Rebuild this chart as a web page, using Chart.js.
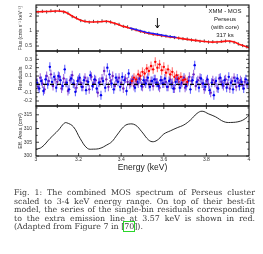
<!DOCTYPE html>
<html><head><meta charset="utf-8">
<script src="https://cdn.jsdelivr.net/npm/chart.js@4.4.0/dist/chart.umd.min.js"></script>
<style>
html,body{margin:0;padding:0;background:#fff;width:263px;height:254px;overflow:hidden;position:relative}
canvas{position:absolute;left:0}
.ann{position:absolute;left:195px;width:60px;text-align:center;font-family:'Liberation Sans',Arial,sans-serif;font-size:6px;color:#222;line-height:8px}
#cap{position:absolute;left:14px;top:189px;width:241px;font-family:'DejaVu Serif',serif;font-size:7.9px;line-height:8.6px;color:#3a3a3a}
#cap div{text-align:justify;text-align-last:justify;white-space:nowrap}
#cap div.last{text-align-last:left}
.ref{outline:1px solid #2bd62b;outline-offset:0}
</style></head><body>
<canvas id="c1" width="263" height="52" style="top:0;width:263px;height:52px"></canvas>
<canvas id="c2" width="263" height="57" style="top:50px;width:263px;height:57px"></canvas>
<canvas id="c3" width="263" height="71" style="top:105px;width:263px;height:71px"></canvas>
<div class="ann" style="top:7px">XMM - MOS<br>Perseus<br>(with core)<br>317 ks</div>
<div id="cap">
<div>Fig. 1: The combined MOS spectrum of Perseus cluster</div>
<div>scaled to 3-4 keV energy range. On top of their best-fit</div>
<div>model, the series of the single-bin residuals corresponding</div>
<div>to the extra emission line at 3.57 keV is shown in red.</div>
<div class="last">(Adapted from Figure 7 in [<span class="ref">70</span>]).</div>
</div>
<script>
// ---------------- data ----------------
const lineEnergy = 3.57;
const xTickValues = [3, 3.2, 3.4, 3.6, 3.8, 4];
const xTickLabels = ['3', '3.2', '3.4', '3.6', '3.8', '4'];
const xFrameTicks = [3.1, 3.2, 3.3, 3.4, 3.5, 3.6, 3.7, 3.8, 3.9];

// top panel: flux
const fluxTickValues = [0.5, 1, 2];
const fluxTickLabels = ['0.5', '1', '2'];
const modelE    = [3.00,3.03,3.06,3.10,3.13,3.15,3.17,3.19,3.21,3.24,3.27,3.30,3.33,3.36,3.38,3.40,3.43,3.46,3.48,3.52,3.57,3.62,3.66,3.71,3.77,3.82,3.87,3.90,3.93,3.96,4.00];
const modelFlux = [2.42,2.45,2.47,2.52,2.45,2.25,2.00,1.80,1.64,1.53,1.52,1.53,1.57,1.47,1.38,1.28,1.18,1.07,1.01,0.91,0.83,0.77,0.73,0.68,0.63,0.60,0.61,0.63,0.60,0.53,0.46];
const lineModelE    = [3.44,3.48,3.52,3.57,3.62,3.66];
const lineModelFlux = [1.15,1.04,0.94,0.86,0.79,0.745];
const dataE    = [3.01,3.03,3.05,3.07,3.09,3.11,3.13,3.15,3.17,3.19,3.21,3.23,3.25,3.27,3.29,3.31,3.33,3.35,3.37,3.39,3.41,3.43,3.45,3.47,3.49,3.51,3.53,3.55,3.57,3.59,3.61,3.63,3.65,3.67,3.69,3.71,3.73,3.75,3.77,3.79,3.81,3.83,3.85,3.87,3.89,3.91,3.93,3.95,3.97,3.99];
const dataFlux = [2.40,2.50,2.41,2.55,2.47,2.58,2.40,2.28,1.95,1.84,1.62,1.58,1.50,1.56,1.51,1.60,1.54,1.52,1.40,1.36,1.24,1.21,1.09,1.06,0.99,0.94,0.91,0.86,0.85,0.81,0.79,0.77,0.74,0.72,0.70,0.69,0.66,0.65,0.62,0.63,0.60,0.61,0.59,0.62,0.63,0.61,0.59,0.55,0.51,0.48];

// middle panel: residuals
const resTickValues = [-0.2, -0.1, 0, 0.1, 0.2, 0.3];
const resTickLabels = ['-0.2', '-0.1', '0', '0.1', '0.2', '0.3'];
const blueRes = [0.02,-0.05,0.04,-0.08,0.06,0.00,0.21,0.03,0.09,-0.04,
  0.10,0.05,-0.02,0.18,0.02,-0.06,0.07,0.01,-0.09,0.04,
  0.08,-0.03,0.05,-0.07,0.03,0.11,-0.02,0.06,-0.05,0.02,
  -0.13,0.04,-0.04,0.20,0.12,0.01,-0.06,0.08,0.03,-0.03,
  0.09,0.05,-0.08,0.13,0.02,0.06,-0.04,0.03,0.07,-0.02,
  0.05,0.01,0.08,-0.03,0.04,0.06,0.02,-0.02,0.05,0.01,
  0.07,-0.03,0.04,0.00,-0.05,0.03,0.06,-0.04,0.02,0.08,
  -0.02,0.04,-0.06,0.05,0.23,0.03,-0.04,0.07,0.01,-0.03,
  0.06,-0.07,0.02,-0.13,0.04,-0.05,0.08,0.00,0.05,-0.04,
  0.09,0.02,-0.06,0.04,0.07,-0.02,0.03,-0.05,0.06,0.01];
const purpleRes = [0.05,-0.03,0.08,0.01,-0.06,0.10,0.04,0.12,-0.02,0.06,
  0.03,0.09,-0.05,0.07,0.02,-0.08,0.05,0.11,0.00,-0.04,
  0.06,0.02,-0.03,0.08,0.04,-0.06,0.09,0.01,0.05,-0.10,
  0.03,0.07,0.16,0.06,-0.03,0.04,0.10,-0.02,0.05,0.08,
  0.02,-0.05,0.07,0.03,0.00,0.05,-0.02,0.04,0.01,0.06,
  -0.03,0.03,0.05,0.00,0.04,-0.02,0.06,0.02,-0.04,0.05,
  0.01,0.03,-0.03,0.06,0.02,-0.05,0.07,0.03,0.00,0.05,
  -0.04,0.02,0.09,0.04,0.12,-0.02,0.05,0.08,0.01,-0.06,
  0.04,0.00,-0.10,0.05,0.02,-0.04,0.07,0.03,-0.02,0.06,
  0.01,-0.05,0.04,0.08,-0.03,0.02,0.05,-0.01,0.03,0.00];
const redE   = [3.45,3.46,3.47,3.48,3.49,3.50,3.51,3.52,3.53,3.54,3.55,3.56,3.57,3.58,3.59,3.60,3.61,3.62,3.63,3.64,3.65,3.66,3.67,3.68,3.69,3.70,3.71];
const redRes = [0.04,0.08,0.06,0.12,0.10,0.15,0.13,0.19,0.16,0.22,0.18,0.27,0.20,0.24,0.17,0.21,0.14,0.18,0.12,0.15,0.09,0.11,0.07,0.09,0.05,0.06,0.03];

// bottom panel: effective area
const areaTickValues = [300, 305, 310, 315];
const areaTickLabels = ['300', '305', '310', '315'];
const areaE = [3.000,3.027,3.066,3.105,3.132,3.144,3.176,3.207,3.241,3.270,3.301,3.332,3.356,3.380,3.411,3.434,3.466,3.497,3.529,3.551,3.575,3.600,3.632,3.663,3.694,3.725,3.756,3.780,3.811,3.842,3.882,3.913,3.960,3.991,4.000];
const areaVal = [302.4,303.2,306.4,309.4,311.9,312.1,310.6,306.4,302.8,302.5,302.8,304.0,305.2,307.6,310.6,311.6,311.3,308.8,305.8,305.2,306.1,308.0,309.2,310.3,311.3,313.1,315.5,316.3,315.3,314.3,312.5,312.2,312.7,314.1,314.9];

// --------------- helpers ---------------
const resBinE = blueRes.map((_, i) => 3.005 + i * 0.01);
const purpleBinE = purpleRes.map((_, i) => 3.0 + i * 0.01);
const pts = (xs, ys) => xs.map((x, i) => ({x, y: ys[i]}));

Chart.defaults.font.family = "'Liberation Sans', Arial, sans-serif";
Chart.defaults.font.size = 5;
Chart.defaults.color = '#333';
Chart.defaults.animation = false;
Chart.defaults.responsive = false;
Chart.defaults.devicePixelRatio = 1;
Chart.defaults.plugins.legend.display = false;
Chart.defaults.plugins.tooltip.enabled = false;

const framePlugin = {
  id: 'frame',
  afterDatasetsDraw(chart, args, o) {
    const {ctx, chartArea: a, scales} = chart;
    const xs = scales.x, ys = scales.y;
    ctx.save();
    ctx.strokeStyle = '#111';
    ctx.lineWidth = 1.1;
    ctx.strokeRect(a.left, a.top, a.right - a.left, a.bottom - a.top);
    ctx.lineWidth = 0.8;
    ctx.beginPath();
    xFrameTicks.forEach((v, i) => {
      const p = xs.getPixelForValue(v);
      const L = (Math.round(v * 10) % 2 === 0) ? 3 : 2;
      ctx.moveTo(p, a.top); ctx.lineTo(p, a.top + L);
      ctx.moveTo(p, a.bottom); ctx.lineTo(p, a.bottom - L);
    });
    (o.yMajor || []).forEach(v => {
      const p = ys.getPixelForValue(v);
      ctx.moveTo(a.left, p); ctx.lineTo(a.left + 3, p);
      ctx.moveTo(a.right, p); ctx.lineTo(a.right - 3, p);
    });
    (o.yMinor || []).forEach(v => {
      const p = ys.getPixelForValue(v);
      ctx.moveTo(a.left, p); ctx.lineTo(a.left + 1.6, p);
      ctx.moveTo(a.right, p); ctx.lineTo(a.right - 1.6, p);
    });
    ctx.stroke();
    if (o.arrow) {
      const px = xs.getPixelForValue(lineEnergy);
      const y0 = a.top + 13, y1 = a.top + 23;
      ctx.strokeStyle = '#000'; ctx.lineWidth = 0.9;
      ctx.beginPath(); ctx.moveTo(px, y0); ctx.lineTo(px, y1); ctx.stroke();
      ctx.beginPath(); ctx.moveTo(px - 2, y1 - 3); ctx.lineTo(px, y1); ctx.lineTo(px + 2, y1 - 3); ctx.stroke();
    }
    ctx.restore();
  }
};

function yAxis(type, min, max, vals, labels, title, titleSize) {
  return {
    type, min, max, position: 'left',
    grid: {display: false, drawTicks: false}, border: {display: false},
    afterBuildTicks: s => { s.ticks = vals.map(v => ({value: v})); },
    afterFit: s => { s.width = 20; s.paddingTop = 0; s.paddingBottom = 0; },
    ticks: {padding: 4, font: {size: 5}, color: '#333', callback: (v, i) => labels[i]},
    title: {display: true, text: title, font: {size: titleSize}, color: '#333', padding: {top: 1.5, bottom: 0}}
  };
}
const xHidden = {type: 'linear', min: 3, max: 4, display: false};

// --------------- chart 1: flux ---------------
new Chart(document.getElementById('c1'), {
  type: 'scatter',
  data: {datasets: [
    {data: pts(lineModelE, lineModelFlux), showLine: true, borderColor: '#1a1aff', borderWidth: 1.4, pointRadius: 0, order: 0},
    {data: pts(modelE, modelFlux), showLine: true, borderColor: '#ff1010', borderWidth: 1.6, pointRadius: 0, tension: 0.3, order: 1},
    {data: pts(dataE, dataFlux), pointStyle: 'line', rotation: 90, radius: 1.6, borderColor: '#222', borderWidth: 0.8, order: 2}
  ]},
  options: {
    layout: {autoPadding: false, padding: {top: 5, right: 14, left: 16, bottom: 1}},
    scales: {x: xHidden, y: yAxis('logarithmic', 0.397, 3.33, fluxTickValues, fluxTickLabels, 'Flux (cnts s\u207B\u00B9 keV\u207B\u00B9)', 5)},
    plugins: {frame: {yMajor: fluxTickValues, yMinor: [0.6, 0.7, 0.8, 0.9, 1.5, 3], arrow: true}}
  },
  plugins: [framePlugin]
});

// --------------- chart 2: residuals ---------------
new Chart(document.getElementById('c2'), {
  type: 'scatter',
  data: {datasets: [
    {data: [{x: 3, y: 0}, {x: 4, y: 0}], showLine: true, borderColor: '#000', borderWidth: 1.3, borderDash: [4, 3], pointRadius: 0, order: 0},
    {data: pts(redE, redRes), pointStyle: 'circle', radius: 1.2, backgroundColor: '#ff0000', borderWidth: 0, order: 1},
    {data: pts(redE, redRes), pointStyle: 'line', rotation: 90, radius: 4.5, borderColor: 'rgba(255,70,70,0.7)', borderWidth: 1.2, order: 2},
    {data: pts(resBinE, blueRes), pointStyle: 'circle', radius: 1.2, backgroundColor: '#0000ee', borderWidth: 0, order: 3},
    {data: pts(resBinE, blueRes), pointStyle: 'line', rotation: 90, radius: 4.5, borderColor: 'rgba(50,50,255,0.75)', borderWidth: 1.1, order: 4},
    {data: pts(purpleBinE, purpleRes), pointStyle: 'circle', radius: 1.2, backgroundColor: '#6a1fc0', borderWidth: 0, order: 5},
    {data: pts(purpleBinE, purpleRes), pointStyle: 'line', rotation: 90, radius: 4.5, borderColor: 'rgba(130,60,210,0.75)', borderWidth: 1.1, order: 6}
  ]},
  options: {
    layout: {autoPadding: false, padding: {top: 1, right: 14, left: 16, bottom: 1}},
    scales: {x: xHidden, y: yAxis('linear', -0.26, 0.4, resTickValues, resTickLabels, 'Residuals', 5.5)},
    plugins: {frame: {yMajor: resTickValues, yMinor: [-0.15, -0.05, 0.05, 0.15, 0.25, 0.35]}}
  },
  plugins: [framePlugin]
});

// --------------- chart 3: effective area ---------------
new Chart(document.getElementById('c3'), {
  type: 'scatter',
  data: {datasets: [
    {data: pts(areaE, areaVal), showLine: true, borderColor: '#111', borderWidth: 0.9, pointRadius: 0, tension: 0.4}
  ]},
  options: {
    layout: {autoPadding: false, padding: {top: 1, right: 14, left: 16, bottom: 0}},
    scales: {
      x: {type: 'linear', min: 3, max: 4,
        grid: {display: false, drawTicks: false}, border: {display: false},
        afterBuildTicks: s => { s.ticks = xTickValues.map(v => ({value: v})); },
        afterFit: s => { s.height = 20; s.paddingLeft = 0; s.paddingRight = 0; },
        ticks: {padding: 1, font: {size: 5}, color: '#333', maxRotation: 0, autoSkip: false, callback: (v, i) => xTickLabels[i]},
        title: {display: true, text: 'Energy (keV)', font: {size: 8.5}, color: '#222', padding: {top: 0, bottom: 3}}
      },
      y: yAxis('linear', 300, 318.2, areaTickValues, areaTickLabels, 'Eff. Area (cm\u00B2)', 5.5)
    },
    plugins: {frame: {yMajor: areaTickValues, yMinor: [302.5, 307.5, 312.5, 317.5]}}
  },
  plugins: [framePlugin]
});
</script>
</body></html>
